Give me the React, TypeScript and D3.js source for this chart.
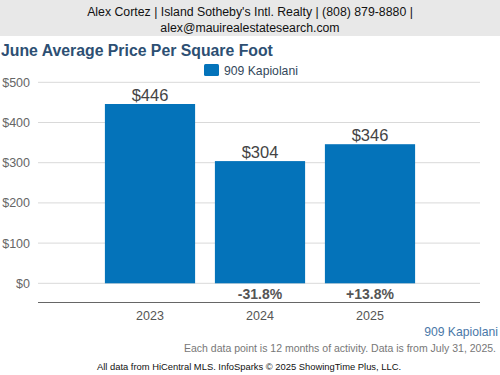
import React from "react";
import * as d3 from "d3";

const categories = ["2023", "2024", "2025"];
const values = [446, 304, 346];
const changes = ["", "-31.8%", "+13.8%"];
const yTicks = [0, 100, 200, 300, 400, 500];
const seriesName = "909 Kapiolani";

export default function App() {
  const W = 500, H = 375;
  const x = d3.scaleBand<string>().domain(categories).range([95, 425]).paddingInner(0.18).paddingOuter(0.09);
  const y = d3.scaleLinear().domain([0, 500]).range([283.3, 82.3]);
  const font = "'Liberation Sans', Arial, sans-serif";
  return (
    <svg width={W} height={H} style={{ position: "fixed", left: 0, top: 0, background: "#fff" }} fontFamily={font}>
      <rect x={0} y={0} width={W} height={36} fill="#e8e8e8" />
      <text x={250} y={15.5} textAnchor="middle" fontSize={12.3} fill="#111">Alex Cortez | Island Sotheby's Intl. Realty | (808) 879-8880 |</text>
      <text x={250} y={31.5} textAnchor="middle" fontSize={12.3} fill="#111">alex@mauirealestatesearch.com</text>
      <text x={1} y={55.5} fontSize={15.8} fontWeight="bold" fill="#2d4f73">June Average Price Per Square Foot</text>
      <rect x={204} y={64} width={15} height={12} rx={1.5} fill="#0473ba" />
      <text x={224} y={74.5} fontSize={12.2} fill="#33475b">{seriesName}</text>
      {yTicks.map((t) => (
        <g key={t}>
          <line x1={38} x2={480} y1={y(t)} y2={y(t)} stroke="#d9d9d9" strokeWidth={1} />
          <text x={30} y={y(t) + 4.5} textAnchor="end" fontSize={12.5} fill="#666">${t}</text>
        </g>
      ))}
      {categories.map((c, i) => (
        <g key={c}>
          <rect x={x(c)} y={y(values[i])} width={x.bandwidth()} height={y(0) - y(values[i])} fill="#0473ba" />
          <text x={x(c)! + x.bandwidth() / 2} y={y(values[i]) - 3.5} textAnchor="middle" fontSize={16.5} fill="#444">${values[i]}</text>
          {changes[i] && (
            <text x={x(c)! + x.bandwidth() / 2} y={299} textAnchor="middle" fontSize={14} fontWeight="bold" fill="#555">{changes[i]}</text>
          )}
          <text x={x(c)! + x.bandwidth() / 2} y={319.5} textAnchor="middle" fontSize={12.5} fill="#555">{c}</text>
        </g>
      ))}
      <line x1={38} x2={480} y1={302.5} y2={302.5} stroke="#666" strokeWidth={1} />
      <text x={498} y={335.5} textAnchor="end" fontSize={12.2} fill="#4a78a8">{seriesName}</text>
      <text x={496} y={352} textAnchor="end" fontSize={10.5} fill="#777">Each data point is 12 months of activity. Data is from July 31, 2025.</text>
      <text x={249} y={370} textAnchor="middle" fontSize={9.4} fill="#111">All data from HiCentral MLS. InfoSparks © 2025 ShowingTime Plus, LLC.</text>
    </svg>
  );
}
